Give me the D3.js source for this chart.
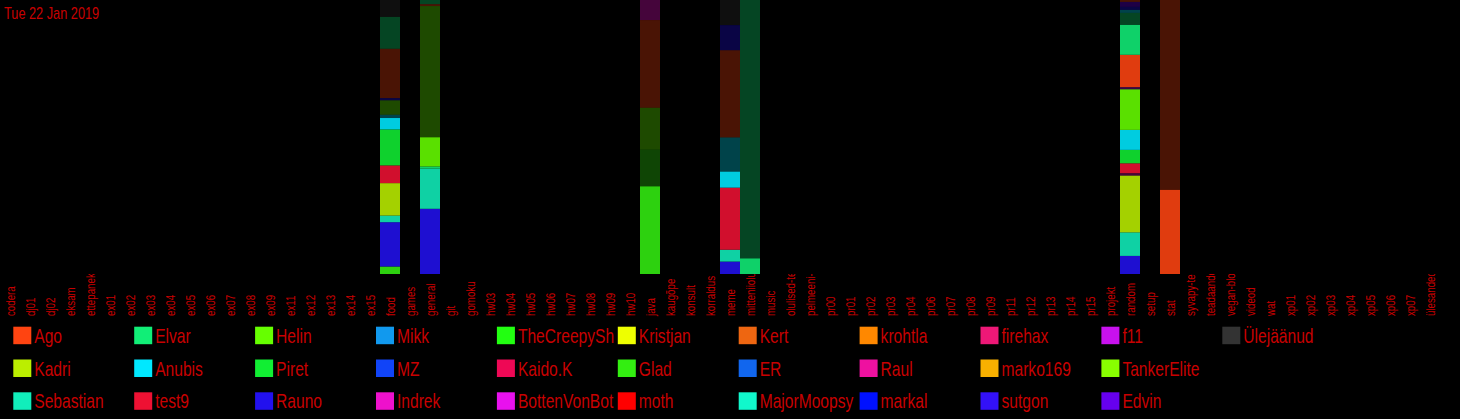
<!DOCTYPE html>
<html><head><meta charset="utf-8">
<script src="https://cdnjs.cloudflare.com/ajax/libs/d3/7.8.5/d3.min.js"></script>
<style>
html,body{margin:0;padding:0;background:#000;overflow:hidden}
svg{display:block}
text{font-family:"Liberation Sans","Arial",sans-serif;}
</style></head><body><svg id="chart" width="1460" height="419"></svg>
<script>
const title = "Tue 22 Jan 2019";
const categories = ["codera","dj01","dj02","eksam","ettepanek","ex01","ex02","ex03","ex04","ex05","ex06","ex07","ex08","ex09","ex11","ex12","ex13","ex14","ex15","food","games","general","git","gomoku","hw03","hw04","hw05","hw06","hw07","hw08","hw09","hw10","java","kaugõpe","konsult","korraldus","meme","mitteniiolulised","music","olulised-teated","pelmeeni-klubi","pr00","pr01","pr02","pr03","pr04","pr06","pr07","pr08","pr09","pr11","pr12","pr13","pr14","pr15","projekt","random","setup","stat","syvapy-teemad","teadaanded","vegan-blogi","videod","wat","xp01","xp02","xp03","xp04","xp05","xp06","xp07","ülesanded"];

const userNames = ["Ago","Kadri","Sebastian","Elvar","Anubis","test9","Helin","Piret","Rauno","Mikk","MZ","Indrek","TheCreepyShadow","Kaido.K","BottenVonBot","Kristjan","Glad","moth","Kert","ER","MajorMoopsy","krohtla","Raul","markal","firehax","marko169","sutgon","f11","TankerElite","Edvin","Ülejäänud"];
const userColors = ["#ff4411","#bbee00","#11eebb","#11ee77","#00e8ff","#ee1133","#66ff00","#11ee33","#2211ee","#1199ee","#1144f8","#ee11cc","#22ff11","#ee0855","#e811ee","#eeff00","#33ee11","#ff0000","#ee6611","#1166ee","#11f8cc","#ff8800","#ee11a0","#0011ff","#ee1877","#f8b000","#3311f8","#c811ee","#88ff00","#6600ee","#333333"];

// stacked bars (share of messages, bottom -> top); today = 1 for today's messages, 0 for earlier
const barChannels = ["food","general","java","meme","mitteniiolulised","random","stat"];
const barUsers = [
  ["Glad","Rauno","Sebastian","Kadri","test9","Piret","Anubis","Anubis","Helin","Rauno","Ago","Elvar","Ülejäänud"],
  ["Rauno","Sebastian","Elvar","Helin","Helin","Ago","Elvar"],
  ["Glad","Glad","Helin","Ago","Indrek"],
  ["Rauno","Sebastian","test9","Anubis","Anubis","Ago","Rauno","Ülejäänud"],
  ["Elvar","Elvar"],
  ["Rauno","Sebastian","Kadri","Indrek","test9","Piret","Anubis","Helin","f11","Ago","Elvar","Elvar","Anubis","Rauno","Edvin","Ago"],
  ["Ago","Ago"]
];
const barToday = [
  [1,1,1,1,1,1,1,0,0,0,0,0,0],
  [1,1,1,1,0,0,0],
  [1,0,0,0,0],
  [1,1,1,1,0,0,0,0],
  [1,0],
  [1,1,1,0,1,1,1,1,0,1,1,0,0,0,0,0],
  [1,0]
];
const barShares = [
  [2.7,16.0,2.4,11.7,6.4,13.0,4.1,1.2,5.2,0.8,17.8,11.5,6.1],
  [23.7,14.6,0.8,10.6,47.7,0.7,1.5],
  [31.9,13.4,15.2,31.9,7.3],
  [4.5,4.3,22.5,5.8,12.4,31.6,9.1,9.1],
  [5.7,94.3],
  [6.6,8.6,20.7,0.9,3.6,4.9,7.3,14.8,0.8,11.8,10.9,4.4,1.1,1.1,1.8,0.7],
  [30.7,69.3]
];

const svg = d3.select("#chart");
const textColor = "#c80000";
const plotBottom = 274;
const squeeze = 0.78;

const x = d3.scaleBand().domain(categories).range([0, 1440]).padding(0);
const y = d3.scaleLinear().domain([0, 1]).range([plotBottom, 0]);
const color = d3.scaleOrdinal(userNames, userColors);

// x-axis labels (clipped at plot bottom)
svg.append("defs").append("clipPath").attr("id","labclip")
  .append("rect").attr("x",0).attr("y",plotBottom).attr("width",1460).attr("height",60);
const axisWrap = svg.append("g").attr("clip-path","url(#labclip)");
const axisG = axisWrap.append("g").attr("transform","translate(0,316)")
  .attr("font-family", null).attr("font-size", null)
  .call(d3.axisBottom(x).tickSize(0).tickPadding(0));
axisG.attr("font-family", null).attr("font-size", null);
axisG.select(".domain").remove();
axisG.selectAll("text")
  .attr("transform","rotate(-90) scale(" + squeeze + ",1)")
  .attr("x",0).attr("y",0).attr("dy","0.42em")
  .style("text-anchor","start")
  .style("font-size","12.5px")
  .attr("fill", textColor);

// bars
const bars = svg.append("g");
barChannels.forEach((ch, bi) => {
  const total = d3.sum(barShares[bi]);
  let acc = 0;
  const segs = barShares[bi].map((v, si) => {
    const s = {user: barUsers[bi][si], today: barToday[bi][si], y0: acc / total, y1: (acc + v) / total};
    acc += v;
    return s;
  });
  bars.append("g").selectAll("rect").data(segs).join("rect")
    .attr("x", x(ch))
    .attr("width", x.bandwidth())
    .attr("y", d => y(d.y1))
    .attr("height", d => y(d.y0) - y(d.y1))
    .attr("fill", d => color(d.user))
    .attr("fill-opacity", d => d.today ? 0.88 : 0.29);
});

// title
svg.append("text").attr("transform","translate(4,19) scale(0.75,1)").attr("fill",textColor)
  .style("font-size","17px").text(title);

// legend
const legend = svg.append("g");
const colStep = 120.9, rowStep = 32.8;
const textRoom = colStep - 22;
userNames.forEach((name, i) => {
  const col = Math.floor(i / 3), row = i % 3;
  const lx = 13.3 + col * colStep, ly = 326.7 + row * rowStep;
  const g = legend.append("g");
  g.append("rect").attr("x",lx).attr("y",ly).attr("width",18).attr("height",17.5).attr("fill",color(name));
  const t = g.append("text").attr("transform","translate(" + (lx+21) + "," + (ly+16) + ") scale(" + squeeze + ",1)")
    .attr("fill",textColor).style("font-size","20px").text(name);
  // trim characters that do not fit in the legend column
  let s = name;
  while (s.length > 1 && t.node().getComputedTextLength() * squeeze > textRoom) {
    s = s.slice(0, -1);
    t.text(s);
  }
});
</script></body></html>
